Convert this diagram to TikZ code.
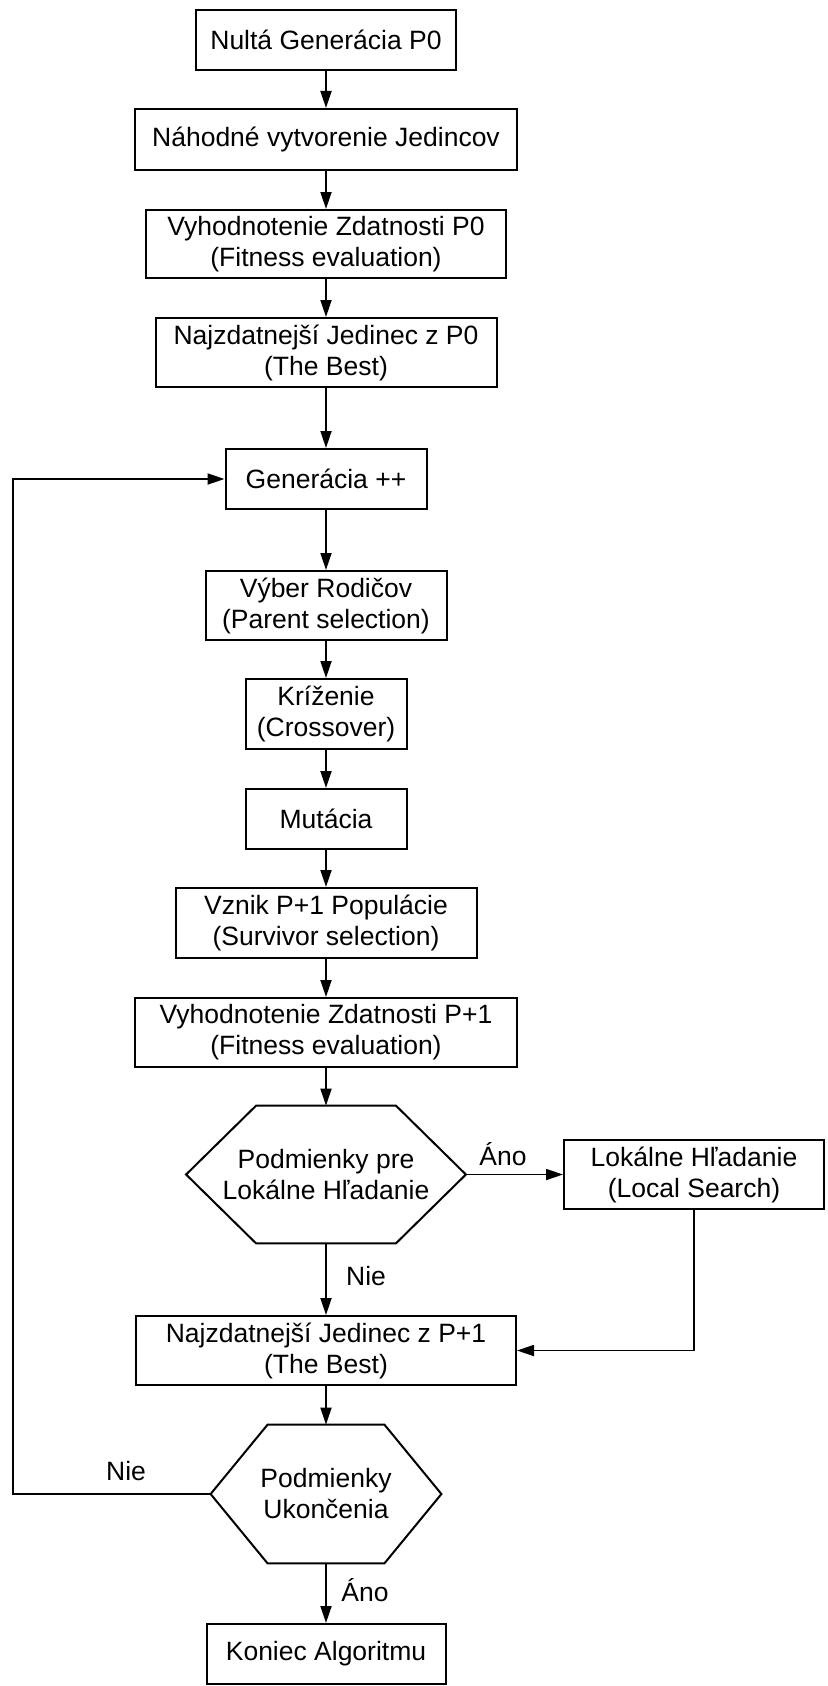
\documentclass[tikz,border=0pt]{standalone}
\usepackage{fontspec}
\setmainfont{Liberation Sans}
\usetikzlibrary{arrows.meta,calc}
\begin{document}
\begin{tikzpicture}[x=0.5pt,y=-0.5pt,
  txt/.style={font=\fontsize{13.25}{15.5}\selectfont, align=center, inner sep=0pt},
  box/.style={txt, draw, line width=1pt, rectangle},
  hexcore/.style={txt, rectangle},
  hexline/.style={line width=1pt, line join=miter},
  flow/.style={line width=0.9pt, -{Triangle[length=8.5pt,width=5.5pt]}},
  plain/.style={line width=0.9pt},
  lbl/.style={txt}]
\useasboundingbox (0,0) rectangle (827,1686);

% main column of steps
\node[box, minimum width=130pt,   minimum height=30pt]   (n1)  at (326,40)     {Nultá Generácia P0};
\node[box, minimum width=191pt,   minimum height=30.5pt] (n2)  at (326,139.5)  {Náhodné vytvorenie Jedincov};
\node[box, minimum width=180pt,   minimum height=34pt]   (n3)  at (326,244)    {Vyhodnotenie Zdatnosti P0\\(Fitness evaluation)};
\node[box, minimum width=170.5pt, minimum height=34.5pt] (n4)  at (326,352.5)  {Najzdatnejší Jedinec z P0\\(The Best)};
\node[box, minimum width=100.5pt, minimum height=30pt]   (n5)  at (326,479)    {Generácia ++};
\node[box, minimum width=120.5pt, minimum height=34.5pt] (n6)  at (326,605.5)  {Výber Rodičov\\(Parent selection)};
\node[box, minimum width=80.5pt,  minimum height=35pt]   (n7)  at (326,714)    {Kríženie\\(Crossover)};
\node[box, minimum width=80.5pt,  minimum height=30pt]   (n8)  at (326,819)    {Mutácia};
\node[box, minimum width=150.5pt, minimum height=35pt]   (n9)  at (326,923)    {Vznik P+1 Populácie\\(Survivor selection)};
\node[box, minimum width=191pt,   minimum height=34.5pt] (n10) at (326,1032.5) {Vyhodnotenie Zdatnosti P+1\\(Fitness evaluation)};
\node[hexcore, minimum width=139.5pt, minimum height=68.5pt] (h1) at (326,1174.5) {Podmienky pre\\Lokálne Hľadanie};
\node[box, minimum width=130pt,   minimum height=34.5pt] (n11) at (694,1174.5) {Lokálne Hľadanie\\(Local Search)};
\node[box, minimum width=190pt,   minimum height=34.5pt] (n12) at (326,1350.5) {Najzdatnejší Jedinec z P+1\\(The Best)};
\node[hexcore, minimum width=115pt, minimum height=69pt] (h2) at (326,1494)   {Podmienky\\Ukončenia};
\node[box, minimum width=119.5pt, minimum height=30pt]   (n13) at (326,1654)   {Koniec Algoritmu};

% decision outlines
\draw[hexline] ($(h1.north west)+(70,0)$) -- ($(h1.north east)+(-70,0)$) -- (h1.east)
  -- ($(h1.south east)+(-70,0)$) -- ($(h1.south west)+(70,0)$) -- (h1.west) -- cycle;
\draw[hexline] ($(h2.north west)+(57,0)$) -- ($(h2.north east)+(-57,0)$) -- (h2.east)
  -- ($(h2.south east)+(-57,0)$) -- ($(h2.south west)+(57,0)$) -- (h2.west) -- cycle;

% connectors
\draw[flow] (n1) -- (n2);
\draw[flow] (n2) -- (n3);
\draw[flow] (n3) -- (n4);
\draw[flow] (n4) -- (n5);
\draw[flow] (n5) -- (n6);
\draw[flow] (n6) -- (n7);
\draw[flow] (n7) -- (n8);
\draw[flow] (n8) -- (n9);
\draw[flow] (n9) -- (n10);
\draw[flow] (n10.south) -- ($(h1.north)$);
\draw[flow] (h1.east) -- (n11.west);
\draw[flow] ($(h1.south)$) -- (n12.north);
\draw[flow] (n11.south) |- (n12.east);
\draw[flow] (n12.south) -- (h2.north);
\draw[flow] (h2.south) -- (n13.north);
\coordinate (loopcorner) at (13,1494);
\draw[flow] (h2.west) -- (loopcorner) |- (n5.west);

% branch labels
\node[lbl] (yes1) at (503,1154) {Áno};
\node[lbl] (no1)  at (366,1276) {Nie};
\node[lbl] (no2)  at (126,1471) {Nie};
\node[lbl] (yes2) at (365,1590) {Áno};
\end{tikzpicture}
\end{document}
